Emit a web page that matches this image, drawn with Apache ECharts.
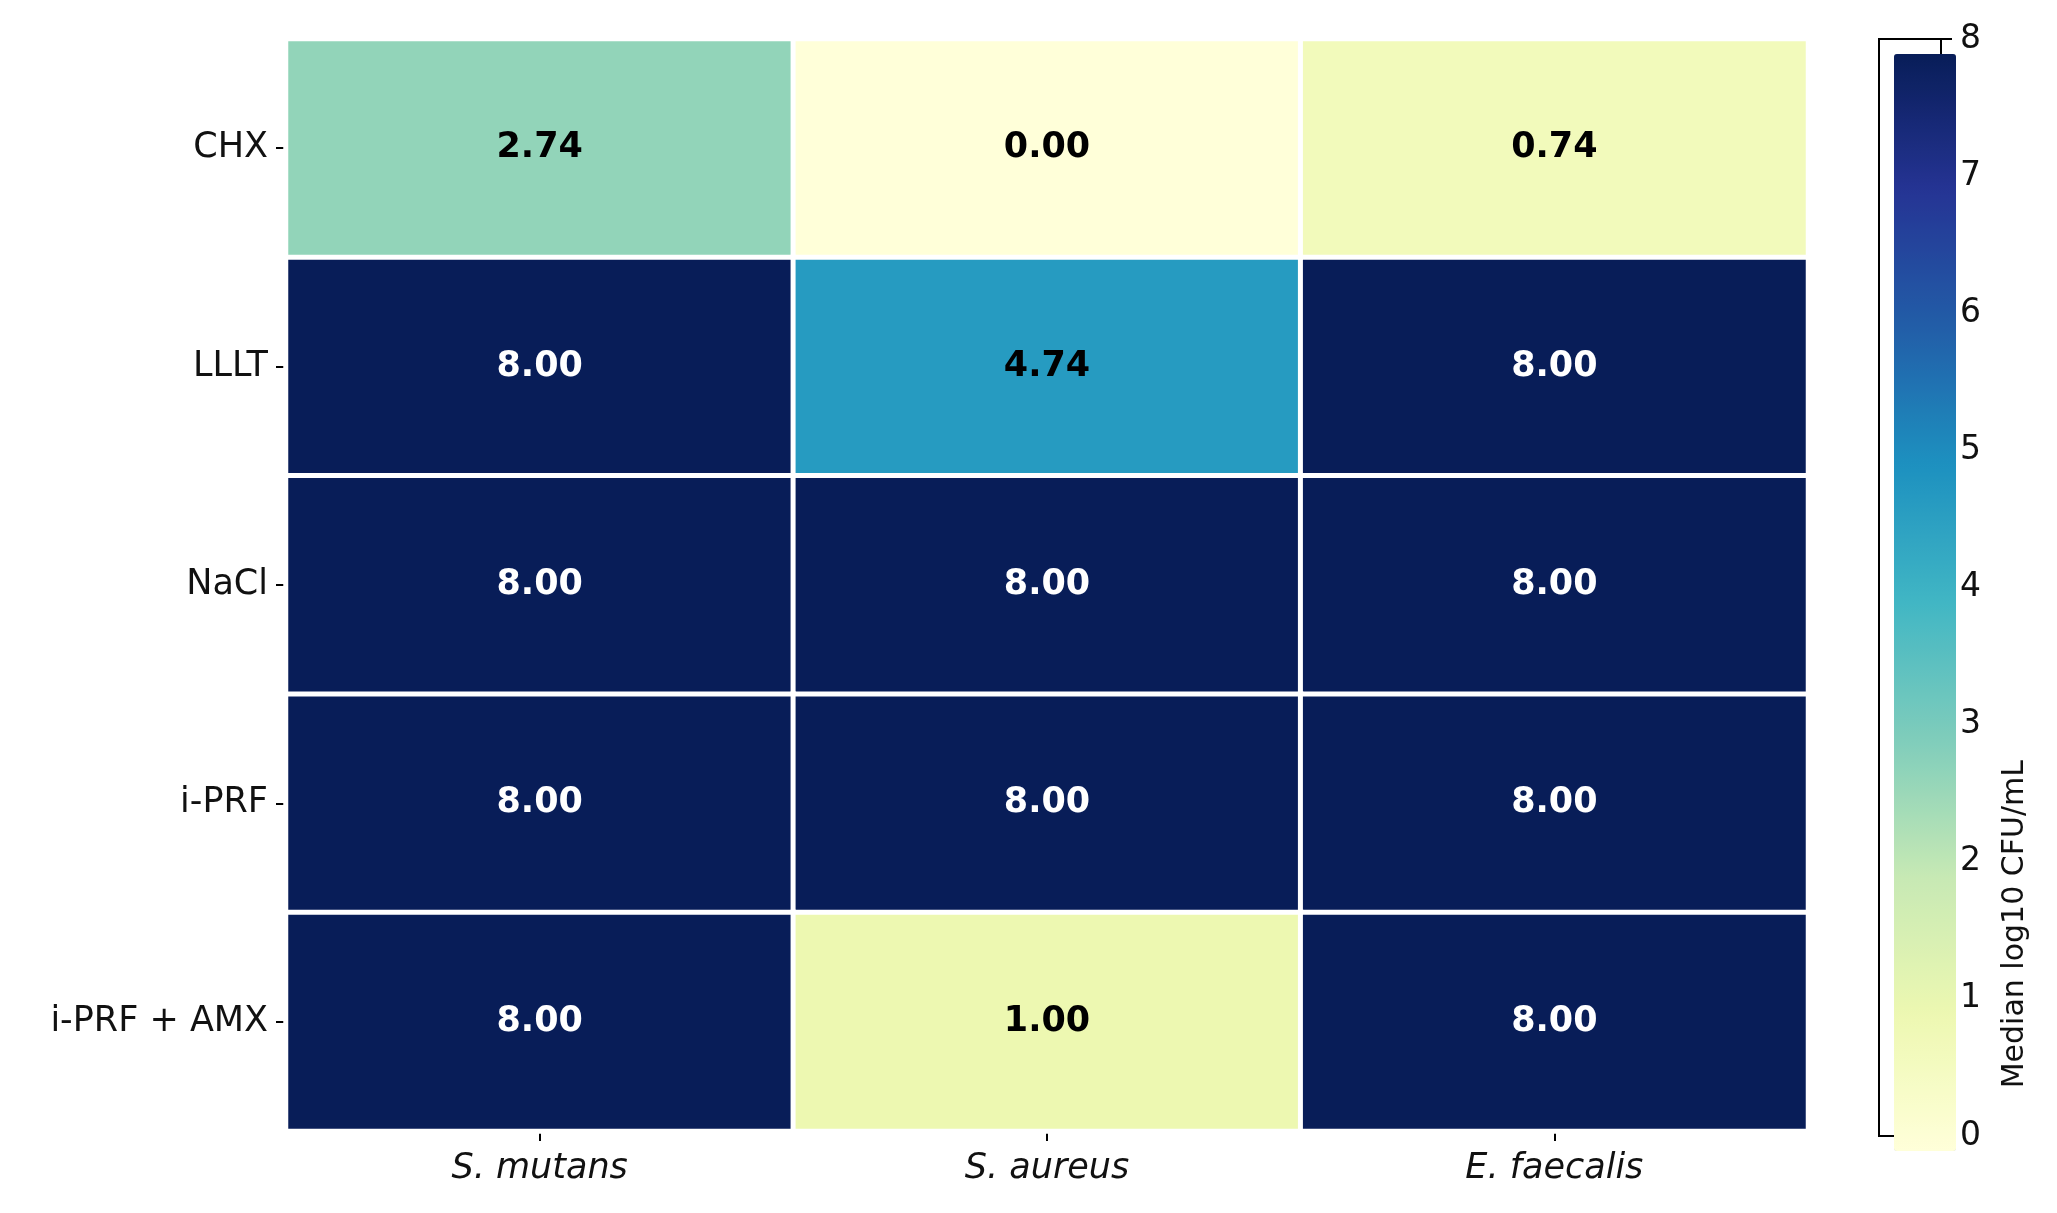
<!DOCTYPE html>
<html>
<head>
<meta charset="utf-8">
<script src="https://cdn.jsdelivr.net/npm/echarts@6/dist/echarts.min.js"></script>
<style>html,body{margin:0;background:#fff}#c{width:2057px;height:1213px}</style>
</head>
<body>
<div id="c"></div>
<script>
var bacteria = ['S. mutans', 'S. aureus', 'E. faecalis'];
var treatments = ['CHX', 'LLLT', 'NaCl', 'i-PRF', 'i-PRF + AMX'];
// rows follow treatments, columns follow bacteria
var medians = [
  [2.74, 0.00, 0.74],
  [8.00, 4.74, 8.00],
  [8.00, 8.00, 8.00],
  [8.00, 8.00, 8.00],
  [8.00, 1.00, 8.00]
];
var cbTicks = [0, 1, 2, 3, 4, 5, 6, 7, 8];

var ylgnbu = ['#ffffd9', '#edf8b1', '#c7e9b4', '#7fcdbb', '#41b6c4', '#1d91c0', '#225ea8', '#253494', '#081d58'];

var cells = [];
medians.forEach(function (row, r) {
  row.forEach(function (v, c) {
    cells.push({
      value: [c, r, v],
      label: { color: v > 4.9 ? '#ffffff' : '#000000' }
    });
  });
});

var font = 'DejaVu Sans';
var chart = echarts.init(document.getElementById('c'));
chart.setOption({
  backgroundColor: '#fff',
  animation: false,
  grid: { left: 286, right: 249, top: 39, bottom: 82 },
  xAxis: {
    type: 'category', data: bacteria, position: 'bottom',
    axisLine: { show: false },
    axisTick: { show: true, alignWithLabel: true, length: 10, lineStyle: { color: '#000', width: 2 } },
    axisLabel: { fontFamily: font, fontStyle: 'italic', fontSize: 35, color: '#111', margin: 20 },
    splitArea: { show: false }
  },
  yAxis: {
    type: 'category', data: treatments, inverse: true,
    axisLine: { show: false },
    axisTick: { show: true, alignWithLabel: true, length: 10, lineStyle: { color: '#000', width: 2 } },
    axisLabel: { fontFamily: font, fontSize: 35, color: '#111', margin: 18 }
  },
  visualMap: {
    type: 'continuous', min: 0, max: 8, calculable: false,
    orient: 'vertical', left: 1879, top: 39, itemWidth: 62, itemHeight: 1097,
    inRange: { color: ylgnbu }, text: null, showLabel: false,
    handleStyle: { opacity: 0 }, indicatorStyle: { opacity: 0 }, hoverLink: false
  },
  graphic: [
    { type: 'rect', shape: { x: 1879, y: 39, width: 62, height: 1097 }, style: { fill: 'none', stroke: '#000', lineWidth: 2 } },
    { type: 'text', left: 2000, top: 760, rotation: Math.PI / 2, style: { text: 'Median log10 CFU/mL', font: '30px "DejaVu Sans"', fill: '#111', textAlign: 'center', textVerticalAlign: 'middle' }, x: 2010, y: 420 }
  ].concat(cbTicks.map(function (t) {
    var y = 1136 - t / 8 * 1097;
    return {
      type: 'group', children: [
        { type: 'line', shape: { x1: 1941, y1: y, x2: 1952, y2: y }, style: { stroke: '#000', lineWidth: 2 } },
        { type: 'text', x: 1960, y: y, style: { text: String(t), font: '33px "DejaVu Sans"', fill: '#111', textVerticalAlign: 'middle' } }
      ]
    };
  })),
  series: [{
    type: 'heatmap',
    data: cells,
    itemStyle: { borderColor: '#fff', borderWidth: 5 },
    label: {
      show: true, fontFamily: font, fontWeight: 'bold', fontSize: 35,
      formatter: function (p) { return p.value[2].toFixed(2); }
    }
  }]
});
</script>
</body>
</html>
